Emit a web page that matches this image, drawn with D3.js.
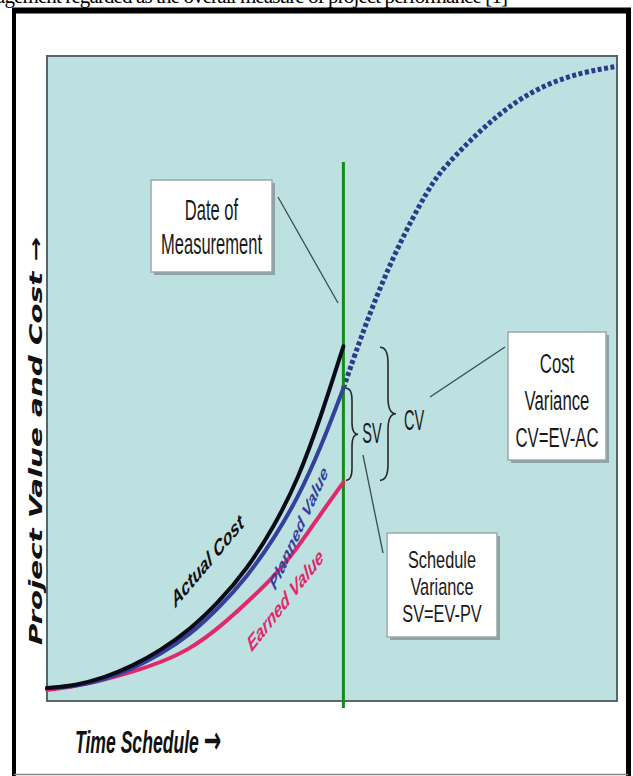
<!DOCTYPE html>
<html>
<head>
<meta charset="utf-8">
<title>Earned value</title>
<script src="https://cdn.jsdelivr.net/npm/d3@7"></script>
<style>
body { margin:0; background:#fff; }
svg { display:block; }
.box text, .note { font-family:"Liberation Sans",Arial,sans-serif; fill:#1a1a1a; text-anchor:middle; }
</style>
</head>
<body>
<script>
// time in % of schedule, values in % of budget
var timeSolid      = [0, 5, 10, 15, 20, 25, 30, 35, 40, 44, 48, 52];
var actualCost     = [2.0, 2.4, 3.6, 5.4, 7.9, 11.0, 15.2, 20.3, 27.3, 34.3, 43.9, 55.0];
var plannedValue   = [2.0, 2.3, 3.3, 5.0, 7.3, 10.2, 14.3, 19.1, 25.4, 31.5, 39.2, 48.5];
var earnedValue    = [1.7, 2.3, 3.3, 4.5, 6.0, 8.0, 11.2, 15.2, 19.4, 23.8, 29.0, 33.9];
var timeForecast   = [52, 56, 61, 67, 70, 76, 82, 88, 94, 100];
var plannedForecast= [48.5, 58.8, 69.6, 79.7, 83.1, 88.5, 92.9, 95.8, 97.5, 98.4];
var measureDate = 52;

var width = 633, height = 776;
var sx = 0.6; // the whole figure looks squeezed sideways
var svg = d3.select("body").append("svg")
	.attr("width", width)
	.attr("height", height);

// caption of the page, cut by the top edge
svg.append("text")
	.attr("x", -4).attr("y", 3)
	.attr("textLength", 512)
	.style("font-family", "Liberation Serif, serif")
	.style("font-size", "21px")
	.text("agement regarded as the overall measure of project performance [1]");

// outer frame
svg.append("line").attr("x1", 12).attr("x2", 631).attr("y1", 10.5).attr("y2", 10.5)
	.style("stroke", "#000").style("stroke-width", 6);
svg.append("line").attr("x1", 14).attr("x2", 14).attr("y1", 8).attr("y2", 776)
	.style("stroke", "#000").style("stroke-width", 4);
svg.append("line").attr("x1", 628.5).attr("x2", 628.5).attr("y1", 8).attr("y2", 776)
	.style("stroke", "#000").style("stroke-width", 5);
svg.append("line").attr("x1", 14).attr("x2", 628).attr("y1", 774.5).attr("y2", 774.5)
	.style("stroke", "#888").style("stroke-width", 1.5);

var x = d3.scaleLinear().domain([0, 100]).range([47, 617]);
var y = d3.scaleLinear().domain([0, 100]).range([701, 56]);

// plot area
svg.append("rect")
	.attr("x", x(0)).attr("y", y(100))
	.attr("width", x(100) - x(0)).attr("height", y(0) - y(100))
	.style("fill", "#bde0e1")
	.style("stroke", "#55676a")
	.style("stroke-width", 2);

function toPts(ts, vs) { return ts.map(function(t, i){ return [t, vs[i]]; }); }
var line = d3.line()
	.x(function(d){ return x(d[0]); })
	.y(function(d){ return y(d[1]); })
	.curve(d3.curveBasis);

// forecast of planned value (dotted)
svg.append("path")
	.attr("d", line(toPts(timeForecast, plannedForecast)))
	.style("fill", "none")
	.style("stroke", "#2c3a8c")
	.style("stroke-width", 5)
	.style("stroke-dasharray", "4,2.5");

// date of measurement
svg.append("line")
	.attr("x1", x(measureDate)).attr("x2", x(measureDate))
	.attr("y1", 162).attr("y2", 708)
	.style("stroke", "#178a1c")
	.style("stroke-width", 3);

var series = [
	{vals: earnedValue, color: "#e0286a"},
	{vals: plannedValue, color: "#33409c"},
	{vals: actualCost, color: "#0b0b18"}
];
series.forEach(function(s){
	svg.append("path")
		.attr("d", line(toPts(timeSolid, s.vals)))
		.style("fill", "none")
		.style("stroke", s.color)
		.style("stroke-width", 4)
		.style("stroke-linecap", "round");
});

// labels on curves (rotated, then squeezed like the rest)
function curveLabel(txt, cx, cy, ang, len, size, color) {
	svg.append("text")
		.attr("transform", "translate(" + cx + "," + cy + ") scale(" + sx + ",1) rotate(" + ang + ")")
		.attr("text-anchor", "middle")
		.attr("textLength", len)
		.attr("lengthAdjust", "spacingAndGlyphs")
		.style("font-family", "Liberation Sans, Arial, sans-serif")
		.style("font-weight", "bold")
		.style("font-style", "italic")
		.style("font-size", size + "px")
		.style("fill", color)
		.text(txt);
}
curveLabel("Actual Cost", 210, 567, -35.6, 142, 22, "#111");
curveLabel("Planned Value", 302, 532, -53, 148, 20, "#33409c");
curveLabel("Earned Value", 288, 606, -37.5, 153, 22, "#e0286a");

// braces
function brace(x0, y1, y2, w) {
	var m = (y1 + y2) / 2, h = w / 2, r = Math.min(w, (y2 - y1) / 4);
	return "M" + x0 + "," + y1 +
		"Q" + (x0 + h) + "," + y1 + " " + (x0 + h) + "," + (y1 + r) +
		"L" + (x0 + h) + "," + (m - r) +
		"Q" + (x0 + h) + "," + m + " " + (x0 + w) + "," + m +
		"Q" + (x0 + h) + "," + m + " " + (x0 + h) + "," + (m + r) +
		"L" + (x0 + h) + "," + (y2 - r) +
		"Q" + (x0 + h) + "," + y2 + " " + x0 + "," + y2;
}
var evEnd = y(earnedValue[earnedValue.length - 1]);
var pvEnd = y(plannedValue[plannedValue.length - 1]);
var acEnd = y(actualCost[actualCost.length - 1]);
svg.append("path").attr("d", brace(346, pvEnd, evEnd - 2, 12))
	.style("fill", "none").style("stroke", "#2a2a2a").style("stroke-width", 1.6);
svg.append("path").attr("d", brace(380, acEnd + 1, evEnd - 2, 16))
	.style("fill", "none").style("stroke", "#2a2a2a").style("stroke-width", 1.6);

function note(txt, cx, base, size, k) {
	svg.append("text").attr("class", "note")
		.attr("transform", "translate(" + cx + "," + base + ") scale(" + k + ",1)")
		.style("font-size", size + "px")
		.text(txt);
}
note("SV", 372, 443, 29, 0.5);
note("CV", 414, 430, 29, 0.5);

// connectors
var connectors = [[278, 197, 338, 303], [430, 397, 505, 347], [363, 455, 383, 553]];
connectors.forEach(function(c){
	svg.append("line")
		.attr("x1", c[0]).attr("y1", c[1]).attr("x2", c[2]).attr("y2", c[3])
		.style("stroke", "#3c4d52").style("stroke-width", 1.3);
});

// text boxes
function textBox(bx, by, bw, bh, lines, bases, size, k) {
	var g = svg.append("g").attr("class", "box");
	g.append("rect").attr("x", bx + 3).attr("y", by + 3).attr("width", bw).attr("height", bh)
		.style("fill", "#8fa3a5");
	g.append("rect").attr("x", bx).attr("y", by).attr("width", bw).attr("height", bh)
		.style("fill", "#fff").style("stroke", "#9aa8aa").style("stroke-width", 1.5);
	lines.forEach(function(t, i){
		g.append("text")
			.attr("transform", "translate(" + (bx + bw / 2) + "," + bases[i] + ") scale(" + k + ",1)")
			.style("font-size", size + "px")
			.text(t);
	});
}
textBox(151, 180, 121, 92, ["Date of", "Measurement"], [220, 254], 29, 0.57);
textBox(508, 332, 98, 128, ["Cost", "Variance", "CV=EV-AC"], [373, 410, 447], 27, 0.62);
textBox(387, 533, 110, 104, ["Schedule", "Variance", "SV=EV-PV"], [568, 595, 622], 23, 0.71);

// axis titles
var xt = svg.append("text")
	.attr("transform", "translate(75,753) scale(0.55,1)")
	.style("font-family", "Liberation Sans, Arial, sans-serif")
	.style("font-weight", "bold").style("font-style", "italic")
	.style("font-size", "32px").style("fill", "#111");
xt.append("tspan").text("Time Schedule ");
xt.append("tspan").style("font-family", "DejaVu Sans, sans-serif").style("font-size", "38px").text("\u2192");

svg.append("text")
	.attr("transform", "translate(42,645) rotate(-90) scale(1,0.68)")
	.attr("textLength", 408)
	.attr("lengthAdjust", "spacingAndGlyphs")
	.style("font-family", "DejaVu Sans, Verdana, sans-serif")
	.style("font-weight", "bold").style("font-style", "italic")
	.style("font-size", "27px").style("fill", "#111")
	.text("Project Value and Cost \u2192");
</script>
</body>
</html>
